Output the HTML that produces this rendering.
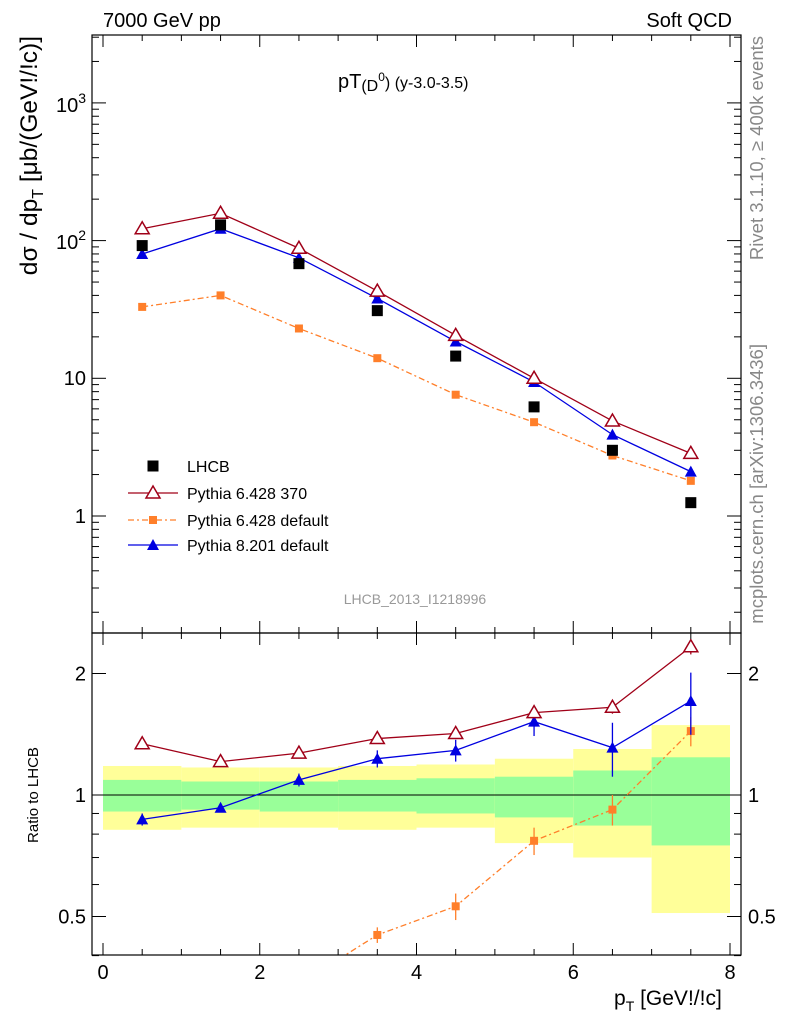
<!DOCTYPE html>
<html><head><meta charset="utf-8"><style>
body{margin:0;background:#fff;font-family:"Liberation Sans",sans-serif}
svg text{font-family:"Liberation Sans",sans-serif}
</style></head><body>
<svg id="c" width="786" height="1024" xmlns="http://www.w3.org/2000/svg"></svg>
<script>
const xs=[0.5,1.5,2.5,3.5,4.5,5.5,6.5,7.5];
const lhcb=[92,130,68,31,14.5,6.2,3.0,1.25];
const p6370=[122,158,88,43,20.5,10,4.9,2.85];
const p6def=[33,40,23,14,7.6,4.8,2.75,1.8];
const p8=[80,122,75,38,18.5,9.4,3.9,2.1];
const r6370=[1.34,1.21,1.27,1.38,1.42,1.6,1.65,2.33];
const r6def=[0.36,0.31,0.34,0.45,0.53,0.77,0.92,1.44];
const r8=[0.87,0.93,1.09,1.23,1.29,1.52,1.31,1.71];
const r8err=[0.03,0.02,0.04,0.06,0.08,0.12,0.2,0.3];
const r6deferr=[0.02,0.02,0.02,0.02,0.04,0.06,0.08,0.12];
const bandYHi=[1.18,1.17,1.17,1.18,1.19,1.23,1.30,1.49];
const bandYLo=[0.82,0.83,0.83,0.82,0.83,0.76,0.70,0.51];
const bandGHi=[1.09,1.08,1.08,1.09,1.10,1.11,1.15,1.24];
const bandGLo=[0.91,0.92,0.91,0.91,0.90,0.88,0.84,0.75];
const xTicks=[0,2,4,6,8];
const NS="http://www.w3.org/2000/svg",S=document.getElementById('c');
function X(v){return 103+v*78.375;}
function Ym(v){return 516-Math.log10(v)*137.7;}
function Yr(v){return 795-Math.log2(v)*121.5;}
function el(t,a,p){const e=document.createElementNS(NS,t);for(const k in a)e.setAttribute(k,a[k]);(p||S).appendChild(e);return e;}
function txt(x,y,s,a){const e=el('text',Object.assign({x:x,y:y,'font-size':19},a||{}));e.textContent=s;return e;}
const L=92,R=741,T=35,M=633,B=955;
const defs=el('defs',{});
const c1=el('clipPath',{id:'cm'},defs);el('rect',{x:L,y:T,width:R-L,height:M-T},c1);
const c2=el('clipPath',{id:'cr'},defs);el('rect',{x:L,y:M,width:R-L,height:B-M},c2);
const gr=el('g',{'clip-path':'url(#cr)'});

for(let i=0;i<8;i++){
 const r=el('rect',{x:X(i),y:Yr(bandYHi[i]),width:X(i+1)-X(i),height:Yr(bandYLo[i])-Yr(bandYHi[i]),fill:'#ffff99'},gr);
 
 const g=el('rect',{x:X(i),y:Yr(bandGHi[i]),width:X(i+1)-X(i),height:Yr(bandGLo[i])-Yr(bandGHi[i]),fill:'#99ff99'},gr);
 
}
el('line',{x1:L,x2:R,y1:Yr(1),y2:Yr(1),stroke:'#000','stroke-width':1},gr);
function series(g,vals,Y,col,dash,marker,errs){
 const pts=xs.map((x,i)=>X(x)+','+Y(vals[i])).join(' ');
 const pl=el('polyline',{points:pts,fill:'none',stroke:col,'stroke-width':1.3,'stroke-dasharray':dash||''},g);
 
 xs.forEach((x,i)=>{
  const cx=X(x),cy=Y(vals[i]);
  if(errs){el('line',{x1:cx,x2:cx,y1:Y(vals[i]+errs[i]),y2:Y(Math.max(vals[i]-errs[i],0.01)),stroke:col,'stroke-width':1.3},g);}
  let m;
  if(marker==='open-tri')m=el('polygon',{points:`${cx},${cy-7} ${cx-7},${cy+5} ${cx+7},${cy+5}`,fill:'#fff',stroke:col,'stroke-width':1.5},g);
  else if(marker==='tri')m=el('polygon',{points:`${cx},${cy-6} ${cx-6},${cy+5} ${cx+6},${cy+5}`,fill:col},g);
  else if(marker==='sq')m=el('rect',{x:cx-4,y:cy-4,width:8,height:8,fill:col},g);
  else m=el('rect',{x:cx-5.5,y:cy-5.5,width:11,height:11,fill:col},g);
  
 });
}
series(gr,r6def,Yr,'#ff7f2a','6,3,2,3','sq',r6deferr);
series(gr,r8,Yr,'#0000e0','', 'tri',r8err);
series(gr,r6370,Yr,'#a00018','', 'open-tri',[0.03,0.02,0.02,0.03,0.03,0.05,0.06,0.1]);
const gm=el('g',{'clip-path':'url(#cm)'});

series(gm,p6def,Ym,'#ff7f2a','6,3,2,3','sq');
series(gm,p8,Ym,'#0000e0','','tri');
series(gm,p6370,Ym,'#a00018','','open-tri');
xs.forEach((x,i)=>{const m=el('rect',{x:X(x)-5.5,y:Ym(lhcb[i])-5.5,width:11,height:11,fill:'#000'},gm);
 });
el('rect',{x:L,y:T,width:R-L,height:M-T,fill:'none',stroke:'#000','stroke-width':1.2});
el('rect',{x:L,y:M,width:R-L,height:B-M,fill:'none',stroke:'#000','stroke-width':1.2});
for(let v=0;v<=8.01;v+=0.5){const maj=Math.abs(v-Math.round(v))<1e-6&&Math.round(v)%2===0;const len=maj?12:6;
 for(const [y0,dir] of [[T,1],[M,-1],[M,1],[B,-1]]) el('line',{x1:X(v),x2:X(v),y1:y0,y2:y0+dir*len,stroke:'#000'});}
xTicks.forEach(v=>{const t=txt(X(v),979,String(v),{'text-anchor':'middle','font-size':20});});
for(let d=-1;d<=3;d++)for(let k=1;k<10;k++){const v=k*Math.pow(10,d);const y=Ym(v);if(y<T||y>M)continue;const len=k===1?14:7;
 el('line',{x1:L,x2:L+len,y1:y,y2:y,stroke:'#000'});el('line',{x1:R,x2:R-len,y1:y,y2:y,stroke:'#000'});}
const ylab=[['1',516],['10',378]];
ylab.forEach(a=>txt(86,a[1]+7,a[0],{'text-anchor':'end','font-size':20}));
[['2',240],['3',103]].forEach(a=>{const t=txt(56,a[1]+9,'10',{'font-size':20});const s=el('tspan',{dy:-9,'font-size':14},t);s.textContent=a[0];});
[0.4,0.5,0.6,0.7,0.8,0.9,1,2].forEach(v=>{const y=Yr(v);const maj=(v===0.5||v===1||v===2);const len=maj?14:7;
 el('line',{x1:L,x2:L+len,y1:y,y2:y,stroke:'#000'});el('line',{x1:R,x2:R-len,y1:y,y2:y,stroke:'#000'});});
[['2',2],['1',1],['0.5',0.5]].forEach(a=>{txt(86,Yr(a[1])+7,a[0],{'text-anchor':'end','font-size':20});txt(748,Yr(a[1])+7,a[0],{'font-size':20});});
let t=txt(103,27,'7000 GeV pp',{'font-size':20});
t=txt(732,27,'Soft QCD',{'font-size':20,'text-anchor':'end'});
t=txt(338,88,'pT',{'font-size':20});
let s=el('tspan',{'font-size':16,dy:3},t);s.textContent='(D';s=el('tspan',{'font-size':12,dy:-10},t);s.textContent='0';s=el('tspan',{'font-size':16,dy:7},t);s.textContent=') ';
s=el('tspan',{'font-size':16},t);s.textContent='(y-3.0-3.5)';
t=txt(415,604,'LHCB_2013_I1218996',{'font-size':14,fill:'#999','text-anchor':'middle'});
t=txt(0,0,'dσ / dp',{'font-size':24.5,'text-anchor':'end',transform:'translate(37,36) rotate(-90)'});
s=el('tspan',{'font-size':16,dy:6},t);s.textContent='T';s=el('tspan',{dy:-6},t);s.textContent=' [μb/(GeV!/!c)]';
t=txt(0,0,'Ratio to LHCB',{'font-size':15,'text-anchor':'middle',transform:'translate(38,795) rotate(-90)'});
t=txt(614,1005,'',{'font-size':21});
s=el('tspan',{},t);s.textContent='p';s=el('tspan',{'font-size':14,dy:6},t);s.textContent='T';s=el('tspan',{dy:-6},t);s.textContent=' [GeV!/!c]';
t=txt(0,0,'Rivet 3.1.10, ≥ 400k events',{'font-size':18.5,fill:'#888','text-anchor':'end',transform:'translate(763,36) rotate(-90)'});
t=txt(0,0,'mcplots.cern.ch [arXiv:1306.3436]',{'font-size':18.5,fill:'#888','text-anchor':'end',transform:'translate(763,344) rotate(-90)'});
const lg=el('g',{});
function le(y,label,col,dash,marker){
 const g=el('g',{},lg);
 if(col&&marker!=='big')el('line',{x1:128,x2:178,y1:y,y2:y,stroke:col,'stroke-width':1.3,'stroke-dasharray':dash},g);
 const cx=153;
 if(marker==='big')el('rect',{x:cx-5.5,y:y-5.5,width:11,height:11,fill:'#000'},g);
 if(marker==='open-tri')el('polygon',{points:`${cx},${y-7} ${cx-7},${y+5} ${cx+7},${y+5}`,fill:'#fff',stroke:col,'stroke-width':1.5},g);
 if(marker==='sq')el('rect',{x:cx-4,y:y-4,width:8,height:8,fill:col},g);
 if(marker==='tri')el('polygon',{points:`${cx},${y-6} ${cx-6},${y+5} ${cx+6},${y+5}`,fill:col},g);
 txt(187,y+6,label,{'font-size':16},g);
}
le(466,'LHCB','#000','','big');
le(493,'Pythia 6.428 370','#a00018','','open-tri');
le(520,'Pythia 6.428 default','#ff7f2a','6,3,2,3','sq');
le(545,'Pythia 8.201 default','#0000e0','','tri');
</script>
</body></html>
